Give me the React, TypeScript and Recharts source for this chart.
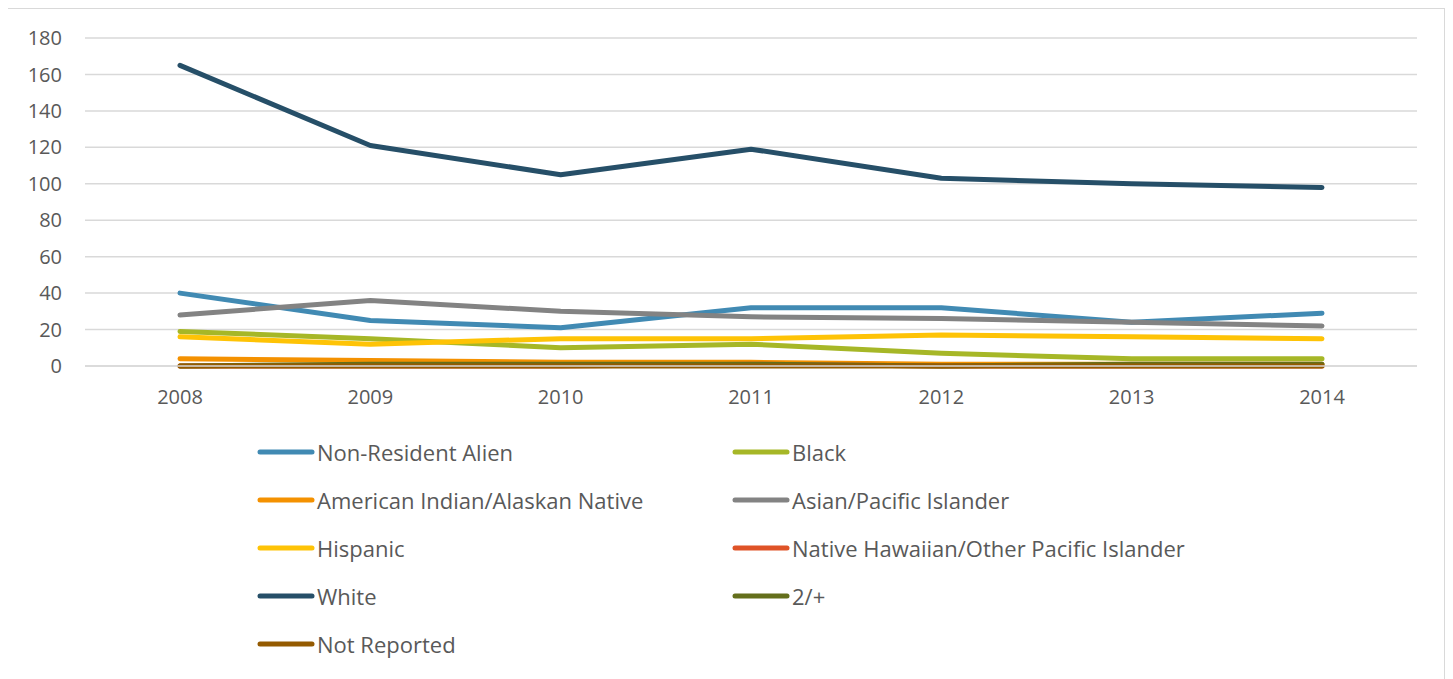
import React from 'react';

import { CartesianGrid, Legend, Line, LineChart, XAxis, YAxis } from 'recharts';

const years = ['2008', '2009', '2010', '2011', '2012', '2013', '2014'];

const nonResidentAlien = [40, 25, 21, 32, 32, 24, 29];
const black = [19, 15, 10, 12, 7, 4, 4];
const americanIndian = [4, 3, 2, 2, 1, 1, 1];
const asianPacific = [28, 36, 30, 27, 26, 24, 22];
const hispanic = [16, 12, 15, 15, 17, 16, 15];
const nativeHawaiian = [0, 0, 0, 1, 0, 0, 0];
const white = [165, 121, 105, 119, 103, 100, 98];
const twoOrMore = [0, 1, 1, 1, 0, 1, 1];
const notReported = [0, 0, 0, 0, 0, 0, 0];

const yTicks = [0, 20, 40, 60, 80, 100, 120, 140, 160, 180];

const series = [
  { key: 'Non-Resident Alien', values: nonResidentAlien, color: '#418AB3' },
  { key: 'Black', values: black, color: '#A6B727' },
  { key: 'American Indian/Alaskan Native', values: americanIndian, color: '#F49100' },
  { key: 'Asian/Pacific Islander', values: asianPacific, color: '#838383' },
  { key: 'Hispanic', values: hispanic, color: '#FEC306' },
  { key: 'Native Hawaiian/Other Pacific Islander', values: nativeHawaiian, color: '#DF5327' },
  { key: 'White', values: white, color: '#264F68' },
  { key: '2/+', values: twoOrMore, color: '#646F1C' },
  { key: 'Not Reported', values: notReported, color: '#945A00' },
];

const data = years.map((year, i) => {
  const row: Record<string, string | number> = { year };
  series.forEach(s => {
    row[s.key] = s.values[i];
  });
  return row;
});

const FONT = '"Open Sans", sans-serif';

const renderLegend = (): JSX.Element => (
  <div
    style={{
      display: 'grid',
      gridTemplateColumns: '475px 520px',
      fontFamily: FONT,
      fontSize: 22,
      color: '#595959',
    }}
  >
    {series.map(s => (
      <div key={s.key} style={{ display: 'flex', alignItems: 'center', height: 48 }}>
        <svg width={60} height={10}>
          <line x1={3} y1={5} x2={55} y2={5} stroke={s.color} strokeWidth={5} strokeLinecap="round" />
        </svg>
        <span>{s.key}</span>
      </div>
    ))}
  </div>
);

const App: React.FC = (): JSX.Element => (
  <div style={{ border: '1px solid #d9d9d9', width: 1437, height: 680, marginLeft: -2, position: 'relative' }}>
    <LineChart width={1437} height={680} data={data} margin={{ top: 29, right: 27, bottom: 283, left: 0 }}>
      <CartesianGrid vertical={false} stroke="#d9d9d9" strokeWidth={1.5} />
      <XAxis
        dataKey="year"
        padding={{ left: 95, right: 95 }}
        axisLine={{ stroke: '#d9d9d9', strokeWidth: 1.5 }}
        tickLine={false}
        tickMargin={18}
        height={40}
        tick={{ fill: '#595959', fontSize: 20, fontFamily: FONT }}
      />
      <YAxis
        domain={[0, 180]}
        ticks={yTicks}
        width={78}
        axisLine={false}
        tickLine={false}
        tickMargin={17}
        tick={{ fill: '#595959', fontSize: 20, fontFamily: FONT }}
      />
      <Legend
        layout="vertical"
        align="center"
        verticalAlign="middle"
        content={renderLegend}
        wrapperStyle={{ top: 419, left: 250, width: 1050, height: 250 }}
      />
      {series.map(s => (
        <Line
          key={s.key}
          dataKey={s.key}
          stroke={s.color}
          strokeWidth={5}
          strokeLinecap="round"
          strokeLinejoin="round"
          dot={false}
          isAnimationActive={false}
        />
      ))}
    </LineChart>
  </div>
);

export default App;
